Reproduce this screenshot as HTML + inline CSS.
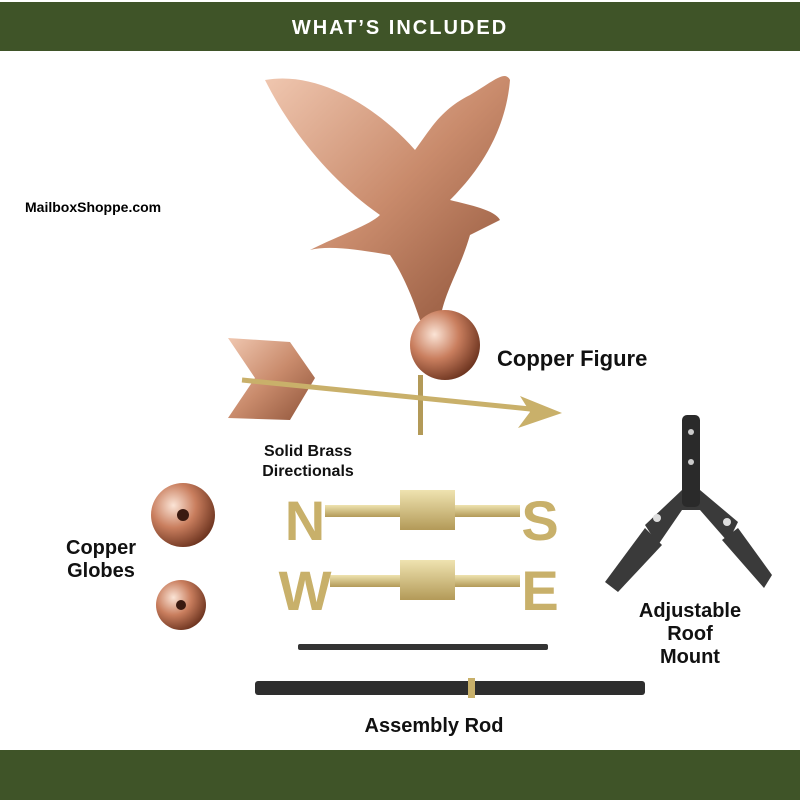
<!DOCTYPE html>
<html><head><meta charset="utf-8"><style>
html,body{margin:0;padding:0;background:#fff;}
svg{display:block}
text{font-family:"Liberation Sans",sans-serif;}
</style></head><body>
<svg width="800" height="800" viewBox="0 0 800 800" xmlns="http://www.w3.org/2000/svg">
<defs>
<linearGradient id="cu" x1="0" y1="0" x2="1" y2="1">
<stop offset="0" stop-color="#f0c7b0"/><stop offset="0.5" stop-color="#c98b6c"/><stop offset="1" stop-color="#8d5238"/></linearGradient>
<linearGradient id="br" x1="0" y1="0" x2="0" y2="1">
<stop offset="0" stop-color="#efe3b0"/><stop offset="1" stop-color="#b39a58"/></linearGradient>
<radialGradient id="gl" cx="0.35" cy="0.35" r="0.7">
<stop offset="0" stop-color="#fbe4d6"/><stop offset="0.5" stop-color="#c97e5e"/><stop offset="1" stop-color="#6e3520"/></radialGradient>
</defs>
<rect x="0" y="2" width="800" height="49" fill="#3f5428"/>
<text x="400" y="34" text-anchor="middle" fill="#fff" font-size="20" font-weight="bold" letter-spacing="2">WHAT’S INCLUDED</text>
<rect x="0" y="750" width="800" height="50" fill="#3f5428"/>

<text x="25" y="212" font-size="14" font-weight="bold" fill="#000">MailboxShoppe.com</text>

<path d="M265 80 C320 70 380 110 415 150 C430 130 440 110 470 95 C495 80 505 70 510 80 C505 140 470 180 450 200 C470 205 495 210 500 220 C490 225 480 230 470 235 C460 270 445 290 440 320 L420 320 C410 290 400 270 390 255 C360 250 330 245 310 250 C340 235 370 225 380 215 C330 180 290 130 265 80 Z" fill="url(#cu)"/>
<circle cx="445" cy="345" r="35" fill="url(#gl)"/>
<rect x="418" y="375" width="5" height="60" fill="#b39a58"/>
<path d="M228 338 L290 342 L315 378 L290 420 L228 418 L255 378 Z" fill="url(#cu)"/>
<line x1="242" y1="380" x2="540" y2="410" stroke="#c9b06a" stroke-width="5"/>
<path d="M520 396 L562 413 L518 428 L530 412 Z" fill="#c9b06a"/>
<text x="497" y="366" font-size="22" font-weight="bold" fill="#111">Copper Figure</text>

<text x="308" y="456" text-anchor="middle" font-size="16" font-weight="bold" fill="#111">Solid Brass</text>
<text x="308" y="476" text-anchor="middle" font-size="16" font-weight="bold" fill="#111">Directionals</text>

<rect x="325" y="505" width="195" height="12" fill="url(#br)"/>
<rect x="400" y="490" width="55" height="40" fill="url(#br)"/>
<text x="305" y="540" text-anchor="middle" font-size="56" font-family="Liberation Serif" font-weight="bold" fill="#c8b06a">N</text>
<text x="540" y="540" text-anchor="middle" font-size="56" font-family="Liberation Serif" font-weight="bold" fill="#c8b06a">S</text>
<rect x="330" y="575" width="190" height="12" fill="url(#br)"/>
<rect x="400" y="560" width="55" height="40" fill="url(#br)"/>
<text x="305" y="610" text-anchor="middle" font-size="56" font-family="Liberation Serif" font-weight="bold" fill="#c8b06a">W</text>
<text x="540" y="610" text-anchor="middle" font-size="56" font-family="Liberation Serif" font-weight="bold" fill="#c8b06a">E</text>

<circle cx="183" cy="515" r="32" fill="url(#gl)"/>
<circle cx="183" cy="515" r="6" fill="#3a1a10"/>
<circle cx="181" cy="605" r="25" fill="url(#gl)"/>
<circle cx="181" cy="605" r="5" fill="#3a1a10"/>
<text x="101" y="554" text-anchor="middle" font-size="20" font-weight="bold" fill="#111">Copper</text>
<text x="101" y="577" text-anchor="middle" font-size="20" font-weight="bold" fill="#111">Globes</text>

<rect x="298" y="644" width="250" height="6" rx="2" fill="#333"/>
<rect x="255" y="681" width="390" height="14" rx="3" fill="#2e2e2e"/>
<rect x="468" y="678" width="7" height="20" fill="#c8b06a"/>
<text x="434" y="732" text-anchor="middle" font-size="20" font-weight="bold" fill="#111">Assembly Rod</text>

<polygon points="645,525 682,490 700,490 738,522 728,542 700,510 682,510 658,545" fill="#3a3a3a"/>
<rect x="682" y="415" width="18" height="92" rx="5" fill="#2a2a2a"/>
<circle cx="691" cy="432" r="3" fill="#ccc"/>
<circle cx="691" cy="462" r="3" fill="#ccc"/>
<polygon points="645,528 662,545 618,592 605,582" fill="#3a3a3a"/>
<polygon points="722,540 738,528 772,575 764,588" fill="#3a3a3a"/>
<circle cx="657" cy="518" r="4" fill="#ddd"/>
<circle cx="727" cy="522" r="4" fill="#ddd"/>
<text x="690" y="617" text-anchor="middle" font-size="20" font-weight="bold" fill="#111">Adjustable</text>
<text x="690" y="640" text-anchor="middle" font-size="20" font-weight="bold" fill="#111">Roof</text>
<text x="690" y="663" text-anchor="middle" font-size="20" font-weight="bold" fill="#111">Mount</text>
</svg>
</body></html>
